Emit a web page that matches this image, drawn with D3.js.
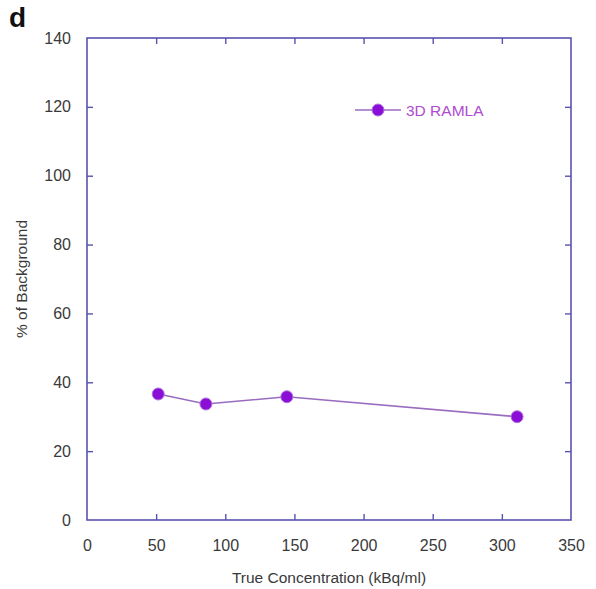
<!DOCTYPE html>
<html>
<head>
<meta charset="utf-8">
<script src="https://cdn.jsdelivr.net/npm/d3@7"></script>
<style>
  body { margin: 0; background: #ffffff; }
  text { font-family: "Liberation Sans", Arial, sans-serif; }
</style>
</head>
<body>
<div id="chart"></div>
<script>
// data
const concentration = [51.5, 86, 144.5, 311];
const percentBg = [36.6, 33.7, 35.8, 30.0];
const seriesName = "3D RAMLA";
const xTicks = [0, 50, 100, 150, 200, 250, 300, 350];
const yTicks = [0, 20, 40, 60, 80, 100, 120, 140];

const width = 596;
const height = 589;
const margin = {left: 87, right: 25, top: 38, bottom: 69};

const svg = d3.select("#chart")
  .append("svg")
  .attr("width", width)
  .attr("height", height);

const xScale = d3.scaleLinear()
  .domain([0, 350])
  .range([margin.left, width - margin.right]);
const yScale = d3.scaleLinear()
  .domain([0, 140])
  .range([height - margin.bottom, margin.top]);

const frameColor = "#5a52b0";
const labelColor = "#3a3a3a";

// frame
svg.append("rect")
  .attr("x", xScale(0))
  .attr("y", yScale(140))
  .attr("width", xScale(350) - xScale(0))
  .attr("height", yScale(0) - yScale(140))
  .attr("fill", "none")
  .attr("stroke", frameColor)
  .attr("stroke-width", 1.6);

// inward ticks on all four sides
function styleAxis(g) {
  g.select(".domain").remove();
  g.selectAll(".tick line").attr("stroke", frameColor).attr("stroke-width", 1.4);
  g.selectAll(".tick text")
    .attr("fill", labelColor)
    .style("font-size", "16px");
}

const xAxis = d3.axisBottom(xScale).tickValues(xTicks).tickSize(-6).tickPadding(20);
svg.append("g")
  .attr("transform", "translate(0," + yScale(0) + ")")
  .call(xAxis)
  .call(styleAxis);

svg.append("g")
  .attr("transform", "translate(0," + yScale(140) + ")")
  .call(d3.axisTop(xScale).tickValues(xTicks).tickSize(-6).tickFormat(""))
  .call(styleAxis);

const yAxis = d3.axisLeft(yScale).tickValues(yTicks).tickSize(-6).tickPadding(16);
svg.append("g")
  .attr("transform", "translate(" + xScale(0) + ",0)")
  .call(yAxis)
  .call(styleAxis);

svg.append("g")
  .attr("transform", "translate(" + xScale(350) + ",0)")
  .call(d3.axisRight(yScale).tickValues(yTicks).tickSize(-6).tickFormat(""))
  .call(styleAxis);

// hide end ticks that sit on the frame
svg.selectAll(".tick").filter(d => d === 0 || d === 350 || d === 140)
  .select("line").remove();

// axis titles
svg.append("text")
  .attr("x", (xScale(0) + xScale(350)) / 2)
  .attr("y", 583)
  .attr("text-anchor", "middle")
  .attr("fill", labelColor)
  .style("font-size", "15.5px")
  .text("True Concentration (kBq/ml)");

svg.append("text")
  .attr("transform", "translate(27," + ((yScale(0) + yScale(140)) / 2) + ") rotate(-90)")
  .attr("text-anchor", "middle")
  .attr("fill", labelColor)
  .style("font-size", "15.5px")
  .text("% of Background");

// panel letter
svg.append("text")
  .attr("x", 9)
  .attr("y", 27)
  .attr("fill", "#111")
  .style("font-size", "28px")
  .style("font-weight", "bold")
  .text("d");

// series
const points = concentration.map((c, i) => [c, percentBg[i]]);
const line = d3.line()
  .x(d => xScale(d[0]))
  .y(d => yScale(d[1]));

svg.append("path")
  .datum(points)
  .attr("d", line)
  .attr("fill", "none")
  .attr("stroke", "#9a6cc0")
  .attr("stroke-width", 1.6);

svg.selectAll(".pt")
  .data(points)
  .enter()
  .append("circle")
  .attr("class", "pt")
  .attr("cx", d => xScale(d[0]))
  .attr("cy", d => yScale(d[1]))
  .attr("r", 6)
  .attr("fill", "#8a0ed6")
  .attr("stroke", "#b070e0")
  .attr("stroke-width", 1);

// legend
const lg = svg.append("g").attr("transform", "translate(355,110)");
lg.append("line")
  .attr("x1", 0).attr("x2", 46)
  .attr("y1", 0).attr("y2", 0)
  .attr("stroke", "#9a6cc0")
  .attr("stroke-width", 1.6);
lg.append("circle")
  .attr("cx", 23).attr("cy", 0).attr("r", 6)
  .attr("fill", "#8a0ed6")
  .attr("stroke", "#b070e0")
  .attr("stroke-width", 1);
lg.append("text")
  .attr("x", 51)
  .attr("y", 5.5)
  .attr("fill", "#b04ad0")
  .style("font-size", "15.5px")
  .text(seriesName);
</script>
</body>
</html>
